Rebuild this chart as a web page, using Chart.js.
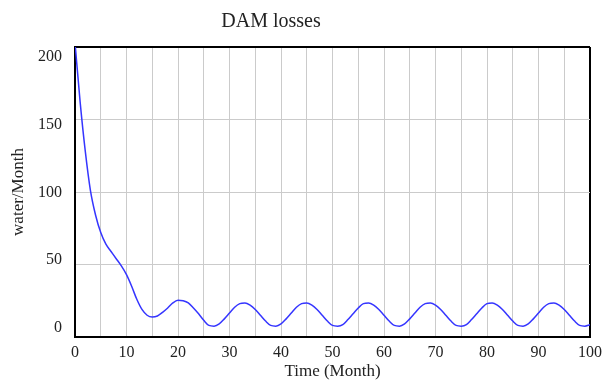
<!DOCTYPE html>
<html>
<head>
<meta charset="utf-8">
<script src="https://cdn.jsdelivr.net/npm/chart.js@4.4.1/dist/chart.umd.min.js"></script>
<style>
    html, body { margin: 0; padding: 0; background: #fff; }
    #wrap { width: 604px; height: 383px; }
</style>
</head>
<body>
<div id="wrap"><canvas id="chart" width="604" height="383"></canvas></div>
<script>
const chartTitle = 'DAM losses';
const xTitle = 'Time (Month)';
const yTitle = 'water/Month';

// one reading per month, 0..100
const months = Array.from({ length: 101 }, (_, i) => i);
const losses = [
    203, 162, 128, 101, 84, 72, 64, 59, 54, 49,
    43, 35, 26, 19, 15, 13.8, 14.5, 17, 20, 23.5,
    25.3, 25, 23.5, 20, 16, 11.5, 8, 7.5, 9, 12.5,
    16.5, 20.5, 23, 23.5, 22, 19, 15, 11, 8, 7.5,
    9, 12.5, 16.5, 20.5, 23, 23.5, 22, 19, 15, 11,
    8, 7.5, 8.5, 12, 16, 20, 23, 23.5, 22, 19,
    15, 11, 8, 7.5, 9, 12.5, 16.5, 20.5, 23, 23.5,
    22, 19, 15, 11, 8, 7.5, 8.5, 12, 16, 20,
    23, 23.5, 22, 19, 15, 11, 8, 7.5, 9, 12.5,
    16.5, 20.5, 23, 23.5, 22, 19, 15, 11, 8, 7.5,
    8.5
];
const yTicks = [0, 50, 100, 150, 200];

const serif = '"Liberation Serif", "DejaVu Serif", serif';
const gridGray = '#cbcbcb';

// title sits left of the plot centre, so it is drawn by hand
const titlePlugin = {
    id: 'plainTitle',
    afterDraw(chart) {
        const ctx = chart.ctx;
        ctx.save();
        ctx.font = '20px ' + serif;
        ctx.fillStyle = '#222';
        ctx.textAlign = 'center';
        ctx.textBaseline = 'middle';
        ctx.fillText(chartTitle, 271, 22);
        ctx.restore();
    }
};

// y labels drift from above their line at 0 to below it at the top
const yLabelPlugin = {
    id: 'yLabels',
    afterDraw(chart) {
        const scale = chart.scales.y;
        const ctx = chart.ctx;
        ctx.save();
        ctx.font = '16px ' + serif;
        ctx.fillStyle = '#222';
        ctx.textAlign = 'right';
        ctx.textBaseline = 'middle';
        yTicks.forEach(v => {
            const shift = -9 + 19 * (v / scale.max);
            ctx.fillText(String(v), 62, scale.getPixelForValue(v) + shift);
        });
        ctx.restore();
    }
};

new Chart(document.getElementById('chart'), {
    type: 'line',
    data: {
        datasets: [{
            data: months.map((m, i) => ({ x: m, y: losses[i] })),
            borderColor: '#3535ff',
            borderWidth: 1.5,
            pointRadius: 0,
            fill: false,
            cubicInterpolationMode: 'monotone'
        }]
    },
    options: {
        responsive: false,
        animation: false,
        layout: { padding: { left: 0, right: 14, top: 47, bottom: 0 } },
        plugins: {
            legend: { display: false },
            tooltip: { enabled: false },
            title: { display: false }
        },
        scales: {
            x: {
                type: 'linear',
                min: 0,
                max: 100,
                afterFit: scale => {
                    scale.height = 46;
                    scale.paddingLeft = 0;
                    scale.paddingRight = 0;
                },
                ticks: {
                    stepSize: 5,
                    autoSkip: false,
                    maxRotation: 0,
                    padding: 6,
                    color: '#222',
                    font: { family: serif, size: 16 },
                    callback: v => (v % 10 === 0 ? String(v) : '')
                },
                grid: {
                    drawTicks: false,
                    color: ctx => (ctx.tick && ctx.tick.value === 100 ? '#000' : gridGray),
                    lineWidth: ctx => (ctx.tick && ctx.tick.value === 100 ? 2 : 1)
                },
                border: { color: '#000', width: 2 },
                title: {
                    display: true,
                    text: xTitle,
                    color: '#222',
                    font: { family: serif, size: 17 },
                    padding: { top: 0, bottom: 1 }
                }
            },
            y: {
                min: 0,
                max: 200,
                afterFit: scale => { scale.width = 75; },
                ticks: {
                    stepSize: 50,
                    display: false
                },
                grid: {
                    drawTicks: false,
                    color: ctx => (ctx.tick && ctx.tick.value === 200 ? '#000' : gridGray),
                    lineWidth: ctx => (ctx.tick && ctx.tick.value === 200 ? 2 : 1)
                },
                border: { color: '#000', width: 2 },
                title: {
                    display: true,
                    text: yTitle,
                    color: '#222',
                    font: { family: serif, size: 17 },
                    padding: { top: 8, bottom: 0 }
                }
            }
        }
    },
    plugins: [titlePlugin, yLabelPlugin]
});
</script>
</body>
</html>
